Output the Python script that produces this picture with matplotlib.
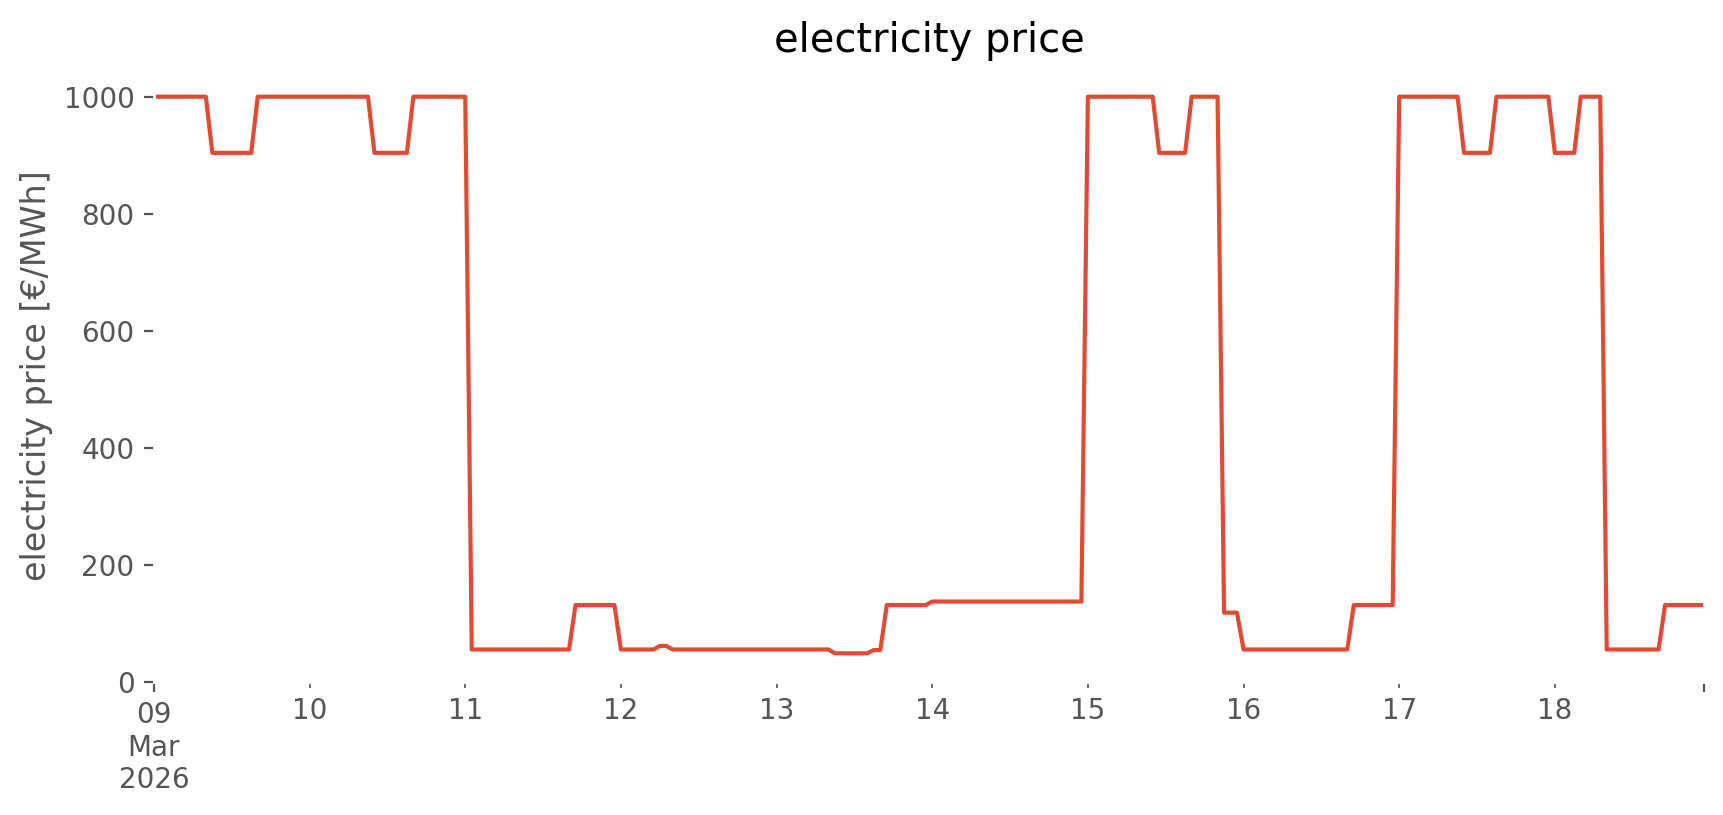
import matplotlib
matplotlib.use("Agg")
import matplotlib.pyplot as plt
import numpy as np
import pandas as pd

plt.style.use("ggplot")

# price levels (EUR/MWh) and how many hours each level lasts
start = "2026-03-09 00:00"
levels = [1000, 904, 1000, 904, 1000, 55, 131, 55, 61, 55, 48.5, 54, 131, 137,
          1000, 904, 1000, 118, 55, 131, 1000, 904, 1000, 904, 1000, 55, 131]
hours = [9, 7, 18, 6, 9, 16, 7, 6, 2, 25, 6, 2, 7, 24,
         11, 5, 5, 3, 17, 7, 10, 5, 9, 4, 4, 9, 7]

values = np.repeat(levels, hours)
index = pd.date_range(start, periods=len(values), freq="h")
price = pd.Series(values, index=index)

fig, ax = plt.subplots(figsize=(8.62, 4.075), dpi=200)
fig.subplots_adjust(left=0.0893, right=0.9884, bottom=0.1636, top=0.9155)

price.plot(ax=ax, color="#E24A33", linewidth=1.5)

ax.set_facecolor("white")
ax.grid(False)
ax.set_ylim(0, None)
ax.set_title("electricity price")
ax.set_ylabel("electricity price [€/MWh]")
ax.set_xlabel("")

fig.savefig("out.png", dpi=200)
